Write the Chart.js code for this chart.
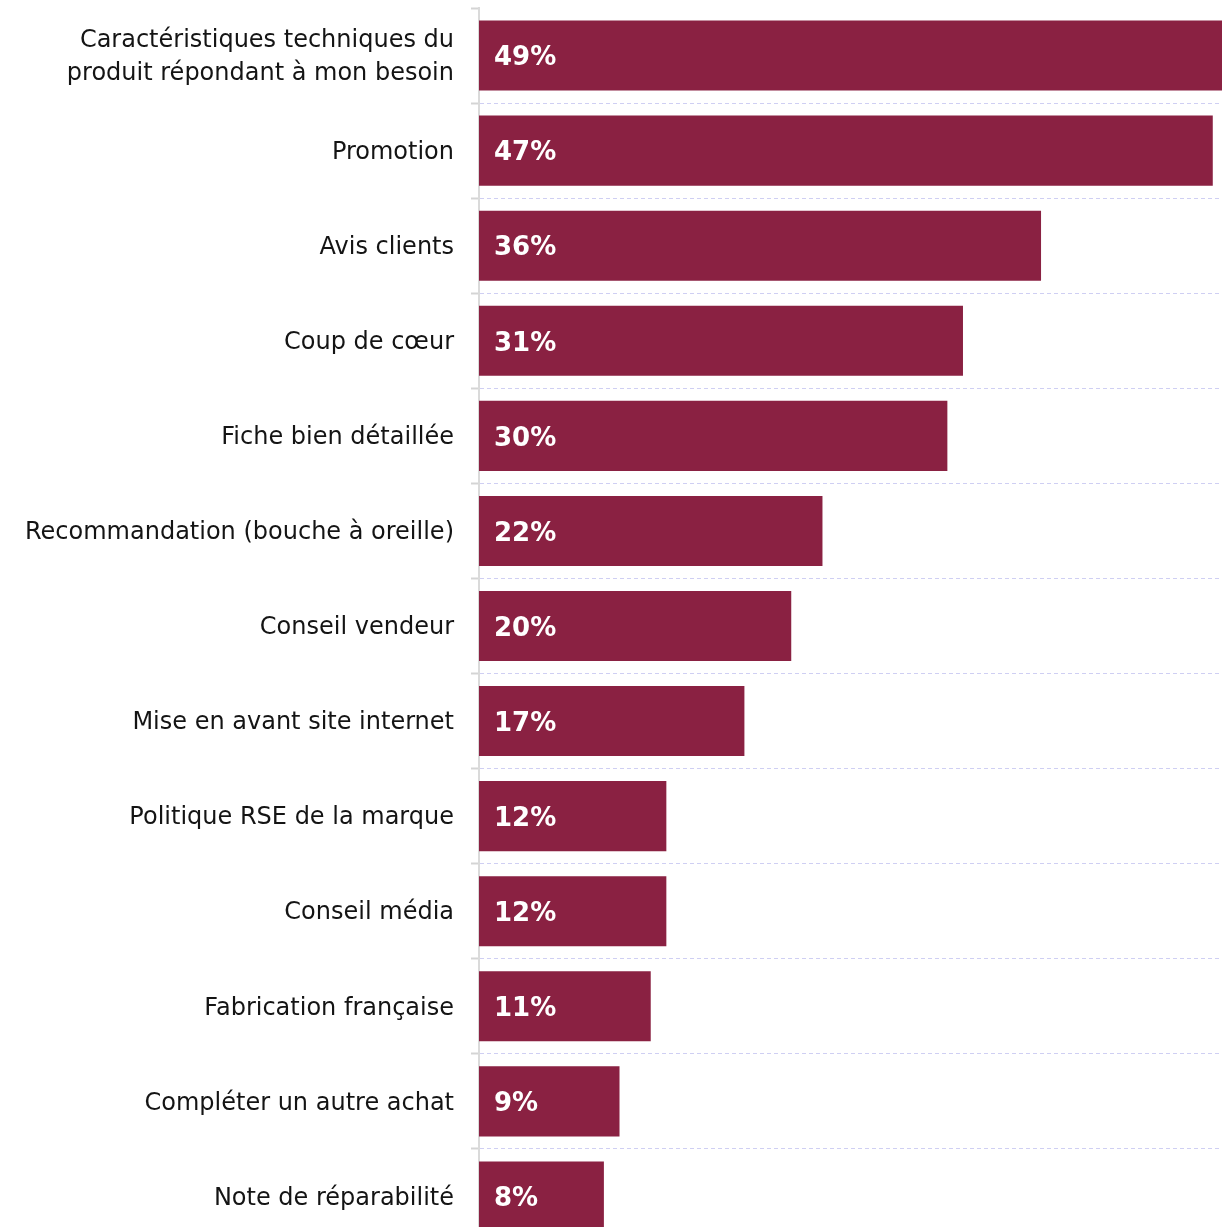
<!DOCTYPE html>
<html>
<head>
<meta charset="utf-8">
<script src="https://cdn.jsdelivr.net/npm/chart.js@4.4.1/dist/chart.umd.min.js"></script>
<style>
  html, body { margin: 0; padding: 0; background: #fff; overflow: hidden; }
  #wrap { width: 1244px; height: 1244px; }
</style>
</head>
<body>
<div id="wrap"><canvas id="chart"></canvas></div>
<script>
const categories = [
  ['Caractéristiques techniques du', 'produit répondant à mon besoin'],
  'Promotion',
  'Avis clients',
  'Coup de cœur',
  'Fiche bien détaillée',
  'Recommandation (bouche à oreille)',
  'Conseil vendeur',
  'Mise en avant site internet',
  'Politique RSE de la marque',
  'Conseil média',
  'Fabrication française',
  'Compléter un autre achat',
  'Note de réparabilité'
];
const values = [49, 47, 36, 31, 30, 22, 20, 17, 12, 12, 11, 9, 8];

const barColor = '#8a2142';

// white percentage labels at the start of each bar
const insideLabels = {
  id: 'insideLabels',
  afterDatasetsDraw(chart) {
    const ctx = chart.ctx;
    const meta = chart.getDatasetMeta(0);
    const x0 = chart.scales.x.getPixelForValue(0);
    ctx.save();
    ctx.fillStyle = '#ffffff';
    ctx.font = 'bold 26px "DejaVu Sans"';
    ctx.textAlign = 'left';
    ctx.textBaseline = 'middle';
    meta.data.forEach((bar, i) => {
      ctx.fillText(values[i] + '%', x0 + 15, bar.y + 3);
    });
    ctx.restore();
  }
};

new Chart(document.getElementById('chart'), {
  type: 'bar',
  data: {
    labels: categories,
    datasets: [{
      data: values,
      backgroundColor: barColor,
      borderWidth: 0,
      categoryPercentage: 1,
      barPercentage: 0.737
    }]
  },
  options: {
    indexAxis: 'y',
    responsive: true,
    maintainAspectRatio: false,
    animation: false,
    layout: { padding: { top: 8, right: 0, bottom: 0, left: 0 } },
    scales: {
      x: {
        display: false,
        min: 0,
        max: 49
      },
      y: {
        afterFit: (s) => {
          s.width = 479;
          s.paddingTop = 0;
          s.paddingBottom = 0;
        },
        grid: {
          color: (c) => c.index === 0 ? 'rgba(0,0,0,0)' : '#cfcff3',
          lineWidth: 1,
          tickColor: '#d4d4d4',
          tickLength: 8,
          tickWidth: 2,
          tickBorderDash: []
        },
        border: {
          display: true,
          color: '#dadada',
          width: 2,
          dash: [4, 3]
        },
        ticks: {
          color: '#141414',
          padding: 17,
          labelOffset: 2,
          font: { family: '"DejaVu Sans"', size: 24, lineHeight: 1.38 }
        }
      }
    },
    plugins: {
      legend: { display: false },
      tooltip: { enabled: false }
    }
  },
  plugins: [insideLabels]
});
</script>
</body>
</html>
